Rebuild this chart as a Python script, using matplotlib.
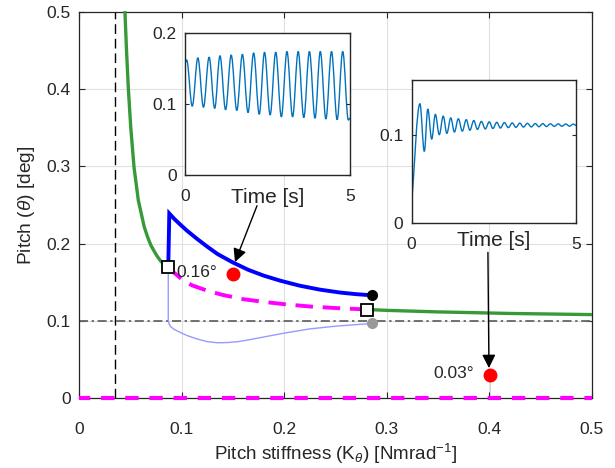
import matplotlib
matplotlib.use("Agg")
import matplotlib.pyplot as plt
from matplotlib.path import Path
from matplotlib.patches import PathPatch
import numpy as np

plt.rcParams['font.family'] = ['Liberation Sans', 'DejaVu Sans']
plt.rcParams['mathtext.fontset'] = 'custom'
plt.rcParams['mathtext.rm'] = 'Liberation Sans'
plt.rcParams['mathtext.it'] = 'Liberation Sans:italic'

# stable branch (green)
k_stable_lo = [0.0448, 0.0463, 0.0481, 0.0504, 0.0536, 0.0578, 0.0635, 0.0667, 0.0700, 0.0733,
               0.0765, 0.0795, 0.0822, 0.0870]
th_stable_lo = [0.499, 0.450, 0.400, 0.351, 0.299, 0.256, 0.222, 0.209, 0.198, 0.190,
                0.183, 0.1775, 0.174, 0.170]
k_stable_hi = [0.281, 0.300, 0.350, 0.420, 0.500]
th_stable_hi = [0.1146, 0.1135, 0.1115, 0.1095, 0.108]

# unstable branch (magenta dashed)
k_unstable = [0.087, 0.092, 0.100, 0.110, 0.125, 0.140, 0.160, 0.180, 0.200, 0.225, 0.250, 0.270, 0.281]
th_unstable = [0.170, 0.163, 0.154, 0.146, 0.139, 0.1335, 0.128, 0.1245, 0.1215, 0.1185, 0.1165, 0.1153, 0.1146]

# LCO upper amplitude (blue) and lower amplitude (light blue)
k_lco_max = [0.087, 0.088, 0.093, 0.0984, 0.105, 0.1147, 0.125, 0.135, 0.150, 0.165, 0.180,
             0.196, 0.215, 0.235, 0.255, 0.270, 0.2853]
th_lco_max = [0.170, 0.239, 0.2318, 0.2250, 0.2170, 0.2065, 0.196, 0.1865, 0.1755, 0.1660, 0.1585,
              0.1520, 0.1455, 0.1403, 0.1365, 0.1345, 0.133]
k_lco_min = [0.087, 0.087, 0.0875, 0.089, 0.092, 0.097, 0.105, 0.115, 0.125, 0.135, 0.145,
             0.155, 0.165, 0.180, 0.200, 0.225, 0.250, 0.270, 0.2853]
th_lco_min = [0.170, 0.102, 0.097, 0.093, 0.0895, 0.086, 0.081, 0.0765, 0.073, 0.0715, 0.0718,
              0.073, 0.0752, 0.079, 0.084, 0.0895, 0.093, 0.095, 0.0965]

# zero branch
k_zero = [0.0, 0.5]
th_zero = [0.0, 0.0]

k_flutter = 0.035
th_ref = 0.1

# highlighted points
k_red = [0.150, 0.4006]
th_red = [0.160, 0.0297]
red_labels = ['0.16°', '0.03°']
k_ends = [0.2853, 0.281, 0.2853]
th_ends = [0.133, 0.1146, 0.0965]
k_hopf = 0.087
th_hopf = 0.170

# inset 1: growing LCO time history (start, peaks, troughs, end)
t1_start, v1_start = 0.0, 0.158
t1_pk = [0.05, 0.39, 0.73, 1.06, 1.40, 1.74, 2.08, 2.41, 2.75, 3.09, 3.43, 3.77, 4.10, 4.44, 4.78]
v1_pk = [0.162, 0.165, 0.166, 0.168, 0.169, 0.170, 0.172, 0.173, 0.173, 0.174, 0.174, 0.174, 0.174, 0.174, 0.174]
t1_tr = [0.22, 0.56, 0.90, 1.23, 1.57, 1.91, 2.25, 2.58, 2.92, 3.26, 3.60, 3.94, 4.27, 4.61, 4.95]
v1_tr = [0.097, 0.0955, 0.094, 0.092, 0.091, 0.088, 0.0856, 0.0847, 0.082, 0.082, 0.081, 0.080, 0.079, 0.078, 0.0776]
t1_end, v1_end = 5.0, 0.080

# inset 2: decaying response
t2_start, v2_start = 0.0, 0.022
t2_pk = [0.25, 0.49, 0.72, 0.96, 1.19, 1.42, 1.66, 1.89, 2.12, 2.36, 2.59, 2.82, 3.06, 3.29, 3.52, 3.76, 3.99, 4.22, 4.46, 4.69, 4.92]
v2_pk = [0.135, 0.129, 0.123, 0.121, 0.119, 0.118, 0.117, 0.116, 0.115, 0.1145, 0.114, 0.1137, 0.1133, 0.113, 0.1128, 0.1126, 0.1125, 0.1123, 0.1122, 0.1121, 0.112]
t2_tr = [0.385, 0.61, 0.84, 1.07, 1.30, 1.54, 1.77, 2.00, 2.24, 2.47, 2.70, 2.94, 3.17, 3.40, 3.64, 3.87, 4.10, 4.34, 4.57, 4.80]
v2_tr = [0.081, 0.095, 0.100, 0.1015, 0.103, 0.104, 0.105, 0.106, 0.1065, 0.107, 0.1075, 0.108, 0.1083, 0.1086, 0.1088, 0.109, 0.1092, 0.1094, 0.1095, 0.1096]
t2_end, v2_end = 5.0, 0.1105

# arrows: tail (under "Time [s]") -> head (red point)
arrow_tails = [(0.1735, 0.249), (0.3986, 0.1886)]
arrow_heads = [(0.152, 0.176), (0.3996, 0.0388)]

txt = (0.15, 0.15, 0.15)
green = (0.22, 0.6, 0.22)
inset_blue = (0.0, 0.447, 0.741)


def extrema_series(t_start, v_start, t_pk, v_pk, t_tr, v_tr, t_end, v_end):
    t = np.concatenate([[t_start], t_pk, t_tr, [t_end]])
    v = np.concatenate([[v_start], v_pk, v_tr, [v_end]])
    order = np.argsort(t)
    return t[order], v[order]


def smooth_path(t, v, free_start=False):
    # cubic Bezier pieces with flat tangents at the peaks and troughs
    verts = [(t[0], v[0])]
    codes = [Path.MOVETO]
    for i in range(len(t) - 1):
        d = 0.36 * (t[i + 1] - t[i])
        if i == 0 and free_start:
            c1 = (t[0] + (t[1] - t[0]) / 3, v[0] + (v[1] - v[0]) / 3)
        else:
            c1 = (t[i] + d, v[i])
        verts += [c1, (t[i + 1] - d, v[i + 1]), (t[i + 1], v[i + 1])]
        codes += [Path.CURVE4] * 3
    return Path(verts, codes)


fig = plt.figure(figsize=(6.15, 4.68), dpi=100)
ax = fig.add_axes([0.1285, 0.1496, 0.834, 0.8248])

ax.axvline(k_flutter, color='k', lw=1.0, ls=(0, (7, 3.5)), zorder=2)
ax.axhline(th_ref, color=(0.4, 0.4, 0.4), lw=1.3, ls=(0, (5, 2, 1.3, 2)), zorder=2)

ax.plot(k_lco_min, th_lco_min, color=(0.6, 0.6, 1.0), lw=1.0, zorder=3)
ax.plot(k_unstable, th_unstable, color=(1, 0, 1), lw=2.8, ls=(0, (4.5, 2.5)), zorder=3)
ax.plot(k_zero, th_zero, color=(1, 0, 1), lw=3.0, ls=(0.5, (3.2, 2.6)), zorder=3, clip_on=False)
ax.plot(k_stable_lo, th_stable_lo, color=green, lw=2.4, zorder=4, clip_on=False,
        solid_joinstyle='round')
ax.plot(k_stable_hi, th_stable_hi, color=green, lw=2.4, zorder=4)
ax.plot(k_lco_max, th_lco_max, color=(0, 0, 1), lw=2.8, zorder=5, solid_joinstyle='miter')

ax.plot(k_ends[0], th_ends[0], 'o', color='k', ms=7, zorder=6)
ax.plot(k_ends[2], th_ends[2], 'o', color=(0.6, 0.6, 0.6), ms=7, zorder=6)
ax.plot(k_ends[1], th_ends[1], 's', mfc='white', mec='k', mew=1.3, ms=9, zorder=7)
ax.plot(k_hopf, th_hopf, 's', mfc='white', mec='k', mew=1.3, ms=9, zorder=7)

ax.plot([k_red[1], k_red[1]], [0, th_red[1]], color=(0.8, 0.8, 0.8), lw=0.6, zorder=2)
ax.plot(k_red, th_red, 'o', color=(1, 0, 0), ms=9, zorder=8)
for k, th, lab in zip(k_red, th_red, red_labels):
    ax.text(k - 0.0155, th + 0.002, lab, ha='right', va='center', fontsize=12.5, color=txt, zorder=9)

for tail, head in zip(arrow_tails, arrow_heads):
    ax.annotate('', xy=head, xytext=tail,
                arrowprops=dict(arrowstyle='-|>', color='k', lw=1.0, mutation_scale=20,
                                shrinkA=0, shrinkB=0), zorder=10)

ax.set_xlim(0, 0.5)
ax.set_ylim(0, 0.5)
ticks = [0, 0.1, 0.2, 0.3, 0.4, 0.5]
tick_labels = ['0', '0.1', '0.2', '0.3', '0.4', '0.5']
ax.set_xticks(ticks)
ax.set_xticklabels(tick_labels)
ax.set_yticks(ticks)
ax.set_yticklabels(tick_labels)
ax.tick_params(direction='in', length=4, width=0.8, colors=txt, labelsize=12.5,
               top=True, right=True)
ax.tick_params(axis='x', pad=17)
ax.tick_params(axis='y', pad=6)
ax.grid(True, color=(0.88, 0.88, 0.88), lw=0.8, zorder=0)
ax.set_axisbelow(True)
for s in ax.spines.values():
    s.set_color(txt)
    s.set_linewidth(0.9)
ax.set_xlabel(r'Pitch stiffness (K$_\theta$) [Nmrad$^{\mathregular{-1}}$]', fontsize=13.6, color=txt, labelpad=4)
ax.set_ylabel(r'Pitch ($\mathit{\theta}$) [deg]', fontsize=13.8, color=txt, labelpad=7)


def style_inset(a, ymax, yticks, ylabels, label_y):
    a.set_xlim(0, 5)
    a.set_ylim(0, ymax)
    a.set_xticks([0, 5])
    a.set_xticklabels(['0', '5'])
    a.set_yticks(yticks)
    a.set_yticklabels(ylabels)
    a.tick_params(direction='in', length=3, width=0.8, colors=txt, labelsize=12.5,
                  top=True, right=True)
    a.tick_params(axis='x', pad=10)
    a.tick_params(axis='y', pad=6)
    for s in a.spines.values():
        s.set_color(txt)
        s.set_linewidth(1.0)
    a.set_xlabel('Time [s]', fontsize=15, color=txt)
    a.xaxis.set_label_coords(0.5, label_y)


ins1 = fig.add_axes([0.3008, 0.626, 0.2683, 0.3034])
t1, v1 = extrema_series(t1_start, v1_start, t1_pk, v1_pk, t1_tr, v1_tr, t1_end, v1_end)
ins1.add_patch(PathPatch(smooth_path(t1, v1), fill=False, edgecolor=inset_blue, lw=1.0))
style_inset(ins1, 0.2, [0, 0.1, 0.2], ['0', '0.1', '0.2'], -0.092)

ins2 = fig.add_axes([0.6694, 0.5241, 0.2672, 0.3049])
t2, v2 = extrema_series(t2_start, v2_start, t2_pk, v2_pk, t2_tr, v2_tr, t2_end, v2_end)
ins2.add_patch(PathPatch(smooth_path(t2, v2, free_start=True), fill=False, edgecolor=inset_blue, lw=1.0))
style_inset(ins2, 0.162, [0, 0.1], ['0', '0.1'], -0.06)

fig.savefig('out.png', dpi=100)
